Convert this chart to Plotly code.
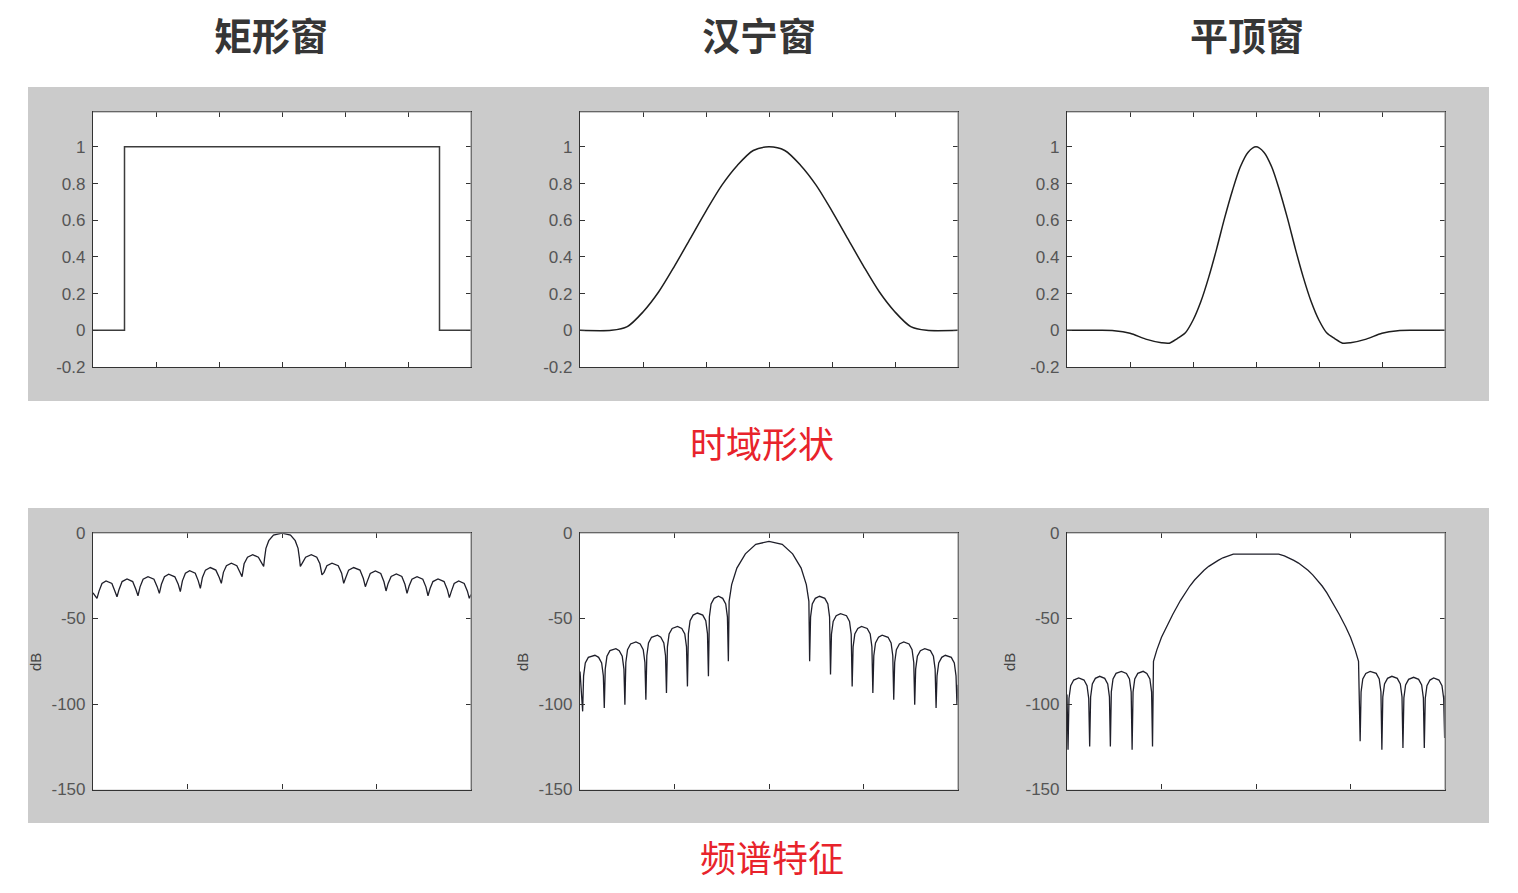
import plotly.graph_objects as go

# ---------------- data ----------------
col_titles = ["矩形窗", "汉宁窗", "平顶窗"]
row_labels = ["时域形状", "频谱特征"]
axis_label = "dB"

time_yticks = [-0.2, 0, 0.2, 0.4, 0.6, 0.8, 1]
time_yticktext = ["-0.2", "0", "0.2", "0.4", "0.6", "0.8", "1"]
time_xticks = [1, 2, 3, 4, 5]
spec_yticks = [-150, -100, -50, 0]
spec_yticktext = ["-150", "-100", "-50", "0"]
spec_xticks = [-1, 0, 1]

# time-domain shapes
rect_t_x = [0, 0.5, 0.5, 5.5, 5.5, 6]
rect_t_y = [0, 0, 1, 1, 0, 0]

hann_t_x = [0, 0.5, 0.75, 1.0, 1.25, 1.5, 1.75, 2.0, 2.25, 2.5, 2.75, 3.0,
            3.25, 3.5, 3.75, 4.0, 4.25, 4.5, 4.75, 5.0, 5.25, 5.5, 6]
hann_t_y = [0, 0, 0.02, 0.10, 0.21, 0.35, 0.50, 0.65, 0.79, 0.90, 0.98, 1.0,
            0.98, 0.90, 0.79, 0.65, 0.50, 0.35, 0.21, 0.10, 0.02, 0, 0]

flat_t_x = [0, 0.5, 0.75, 1.0, 1.25, 1.5, 1.625, 1.75, 1.875, 2.0, 2.125, 2.25,
            2.375, 2.5, 2.625, 2.75, 2.875, 3.0, 3.125, 3.25, 3.375, 3.5, 3.625,
            3.75, 3.875, 4.0, 4.125, 4.25, 4.375, 4.5, 4.75, 5.0, 5.25, 5.5, 6]
flat_t_y = [0, 0, -0.002, -0.016, -0.048, -0.068, -0.07, -0.045, -0.015, 0.055, 0.157, 0.29,
            0.444, 0.61, 0.761, 0.89, 0.971, 1.0, 0.971, 0.89, 0.761, 0.61, 0.444,
            0.29, 0.157, 0.055, -0.015, -0.045, -0.07, -0.068, -0.048, -0.016, -0.002, 0, 0]

# spectra (dB)
rect_s_x = [-2.000, -1.958, -1.936, -1.905, -1.862, -1.800, -1.768, -1.746, -1.724, -1.692, -1.640,
            -1.580, -1.546, -1.524, -1.502, -1.470, -1.418, -1.355, -1.320, -1.298, -1.276, -1.244,
            -1.199, -1.134, -1.098, -1.076, -1.054, -1.022, -0.977, -0.918, -0.886, -0.864, -0.842,
            -0.810, -0.758, -0.700, -0.664, -0.642, -0.620, -0.588, -0.536, -0.478, -0.445, -0.423,
            -0.401, -0.365, -0.310, -0.250, -0.216, -0.194, -0.185, -0.170, -0.140, -0.090, 0.000,
            0.090, 0.140, 0.170, 0.185, 0.194, 0.216, 0.250, 0.310, 0.368, 0.401, 0.423, 0.445,
            0.475, 0.529, 0.595, 0.631, 0.653, 0.675, 0.705, 0.758, 0.825, 0.860, 0.882, 0.904,
            0.934, 0.988, 1.045, 1.079, 1.101, 1.123, 1.155, 1.210, 1.268, 1.301, 1.323, 1.345,
            1.375, 1.429, 1.490, 1.523, 1.545, 1.567, 1.597, 1.651, 1.715, 1.749, 1.771, 1.793,
            1.822, 1.870, 1.928, 1.962, 1.982, 2.000]
rect_s_y = [-35.0, -38.2, -34.0, -29.5, -28.0, -29.5, -34.0, -37.3, -33.0, -28.4, -26.9,
            -28.4, -33.0, -36.7, -31.5, -27.0, -25.5, -27.0, -31.5, -35.3, -30.0, -25.6,
            -24.1, -25.6, -30.0, -34.3, -28.0, -23.5, -22.0, -23.5, -28.0, -32.4, -26.0,
            -21.7, -20.2, -21.7, -26.0, -29.4, -23.0, -19.1, -17.6, -19.1, -23.0, -25.5,
            -18.0, -14.2, -12.7, -14.2, -17.5, -19.6, -15.0, -9.0, -4.5, -1.2, 0.0,
            -1.2, -4.5, -9.0, -15.0, -19.6, -17.5, -14.2, -12.7, -14.2, -18.0, -24.5, -23.0,
            -19.1, -17.6, -19.1, -23.5, -29.4, -26.0, -21.7, -20.2, -21.7, -26.5, -31.4, -28.0,
            -23.7, -22.2, -23.7, -28.5, -33.9, -29.5, -25.4, -23.9, -25.4, -30.0, -35.3, -31.0,
            -27.0, -25.5, -27.0, -31.5, -36.7, -32.5, -28.4, -26.9, -28.4, -33.0, -37.8, -34.0,
            -29.5, -28.0, -29.5, -34.0, -38.2, -36.0]

hann_s_x = [-2.000, -1.990, -1.972,
            -1.962, -1.944, -1.912, -1.842, -1.803, -1.771, -1.753, -1.743,
            -1.733, -1.715, -1.683, -1.620, -1.585, -1.553, -1.535, -1.525,
            -1.515, -1.497, -1.465, -1.408, -1.363, -1.331, -1.313, -1.303,
            -1.293, -1.275, -1.243, -1.180, -1.145, -1.113, -1.095, -1.085,
            -1.075, -1.057, -1.025, -0.968, -0.923, -0.891, -0.873, -0.863,
            -0.853, -0.835, -0.803, -0.757, -0.701, -0.669, -0.651, -0.641,
            -0.631, -0.613, -0.581, -0.535, -0.490, -0.458, -0.440, -0.430,
            -0.422, -0.395, -0.340, -0.250, -0.140, 0.000, 0.140, 0.250, 0.340, 0.395, 0.422, 0.430,
            0.440, 0.458, 0.490, 0.535, 0.591, 0.623, 0.641, 0.651,
            0.661, 0.679, 0.711, 0.757, 0.820, 0.852, 0.870, 0.880,
            0.890, 0.908, 0.940, 0.979, 1.039, 1.071, 1.089, 1.099,
            1.109, 1.127, 1.159, 1.197, 1.260, 1.292, 1.310, 1.320,
            1.330, 1.348, 1.380, 1.426, 1.482, 1.514, 1.532, 1.542,
            1.552, 1.570, 1.602, 1.648, 1.708, 1.740, 1.758, 1.768,
            1.778, 1.796, 1.828, 1.866, 1.929, 1.961, 1.979, 1.989,
            2.000]
hann_s_y = [-81.0, -92.0, -104.3,
            -83.5, -76.0, -72.7, -71.5, -72.7, -76.0, -83.5, -102.3,
            -79.6, -72.1, -68.8, -67.6, -68.8, -72.1, -79.6, -100.4,
            -75.7, -68.2, -64.9, -63.7, -64.9, -68.2, -75.7, -97.5,
            -71.8, -64.3, -61.0, -59.8, -61.0, -64.3, -71.8, -93.6,
            -66.6, -59.1, -55.8, -54.6, -55.8, -59.1, -66.6, -89.7,
            -58.8, -51.3, -48.0, -46.8, -48.0, -51.3, -58.8, -83.8,
            -49.0, -41.5, -38.2, -37.0, -38.2, -41.5, -49.0, -75.0,
            -40.0, -30.2, -20.5, -12.2, -6.6, -4.9, -6.6, -12.2, -20.5, -30.2, -40.0, -75.0,
            -49.0, -41.5, -38.2, -37.0, -38.2, -41.5, -49.0, -82.8,
            -59.2, -51.7, -48.4, -47.2, -48.4, -51.7, -59.2, -89.7,
            -66.6, -59.1, -55.8, -54.6, -55.8, -59.1, -66.6, -93.6,
            -71.8, -64.3, -61.0, -59.8, -61.0, -64.3, -71.8, -97.5,
            -75.7, -68.2, -64.9, -63.7, -64.9, -68.2, -75.7, -100.4,
            -79.6, -72.1, -68.8, -67.6, -68.8, -72.1, -79.6, -102.3,
            -83.5, -76.0, -72.7, -71.5, -72.7, -76.0, -83.5, -100.4,
            -88.7]

flat_s_x = [-2.000, -1.989,
            -1.979, -1.961, -1.929, -1.876, -1.820, -1.788, -1.770, -1.760,
            -1.750, -1.732, -1.700, -1.654, -1.601, -1.569, -1.551, -1.541,
            -1.531, -1.513, -1.481, -1.424, -1.371, -1.339, -1.321, -1.311,
            -1.301, -1.283, -1.251, -1.194, -1.155, -1.123, -1.105, -1.095,
            -1.085, -1.050, -1.000, -0.950, -0.880, -0.800, -0.750, -0.700, -0.650, -0.600,
            -0.550, -0.500, -0.450, -0.400, -0.350, -0.300, -0.240, 0.000,
            0.240, 0.300, 0.350, 0.400, 0.450, 0.500, 0.550, 0.600, 0.650, 0.700, 0.750,
            0.800, 0.880, 0.950, 1.000, 1.050, 1.085,
            1.102,
            1.112, 1.130, 1.162, 1.208, 1.272, 1.304, 1.322, 1.332,
            1.342, 1.360, 1.392, 1.438, 1.495, 1.527, 1.545, 1.555,
            1.565, 1.583, 1.615, 1.668, 1.721, 1.753, 1.771, 1.781,
            1.791, 1.809, 1.841, 1.880, 1.936, 1.968, 1.986, 1.996,
            2.000]
flat_s_y = [-94.5, -126.7,
            -96.8, -89.3, -86.0, -84.8, -86.0, -89.3, -96.8, -124.8,
            -95.8, -88.3, -85.0, -83.8, -85.0, -88.3, -95.8, -124.8,
            -92.9, -85.4, -82.1, -80.9, -82.1, -85.4, -92.9, -126.7,
            -92.9, -85.4, -82.1, -80.9, -82.1, -85.4, -92.9, -124.8,
            -75.0, -68.5, -61.0, -55.0, -47.5, -39.5, -35.0, -31.0, -27.5, -24.5,
            -21.8, -19.5, -17.6, -16.0, -14.5, -13.4, -12.3, -12.3,
            -12.3, -13.4, -14.5, -16.0, -17.6, -19.5, -21.8, -24.5, -27.5, -31.0, -35.0,
            -39.5, -47.5, -55.0, -61.0, -68.5, -75.0,
            -121.8,
            -92.9, -85.4, -82.1, -80.9, -82.1, -85.4, -92.9, -126.7,
            -95.8, -88.3, -85.0, -83.8, -85.0, -88.3, -95.8, -125.7,
            -96.4, -88.9, -85.6, -84.4, -85.6, -88.9, -96.4, -125.7,
            -96.8, -89.3, -86.0, -84.8, -86.0, -89.3, -96.8, -119.9,
            -95.0]

# ---------------- layout helpers ----------------
W, H = 1518, 893


def fx(p):
    return p / W


def fy(p):
    return 1 - p / H


col_px = [(93, 471), (580, 958), (1067, 1445)]
top_px = (112, 367)
bot_px = (533, 789.5)

fig = go.Figure()

time_series = [(rect_t_x, rect_t_y, "linear", "#3c3c3c"),
               (hann_t_x, hann_t_y, "spline", "#1e1e1e"),
               (flat_t_x, flat_t_y, "spline", "#1e1e1e")]
spec_series = [(rect_s_x, rect_s_y), (hann_s_x, hann_s_y), (flat_s_x, flat_s_y)]

tick_font = dict(family="Liberation Sans, Arial, sans-serif", size=17, color="#555555")
layout = dict(width=W, height=H, autosize=False, template="none",
              margin=dict(l=0, r=0, t=0, b=0, pad=0, autoexpand=False),
              paper_bgcolor="white", plot_bgcolor="white", showlegend=False)

shapes = []
annotations = []

# gray panels
for (y0, y1) in [(87, 401), (508, 823)]:
    shapes.append(dict(type="rect", xref="paper", yref="paper", layer="below",
                       x0=fx(28), x1=fx(1489), y0=fy(y1), y1=fy(y0),
                       fillcolor="#cbcbcb", line=dict(width=0)))

for r in range(2):
    for c in range(3):
        k = r * 3 + c + 1
        xa = "xaxis" if k == 1 else f"xaxis{k}"
        ya = "yaxis" if k == 1 else f"yaxis{k}"
        xs = "x" if k == 1 else f"x{k}"
        ys = "y" if k == 1 else f"y{k}"
        ypx = top_px if r == 0 else bot_px
        # white plotting area
        shapes.append(dict(type="rect", xref="paper", yref="paper", layer="below",
                           x0=fx(col_px[c][0]), x1=fx(col_px[c][1]),
                           y0=fy(ypx[1]), y1=fy(ypx[0]),
                           fillcolor="white", line=dict(width=0)))
        common = dict(showline=True, linecolor="#333333", linewidth=1.2, mirror="ticks",
                      ticks="inside", ticklen=5, tickcolor="#333333", tickwidth=1,
                      showgrid=False, zeroline=False, fixedrange=True, automargin=False)
        if r == 0:
            xr, xt = [0, 6], time_xticks
            yr, yt, ytt = [-0.2, 1.19], time_yticks, time_yticktext
            sx, sy, shp, col = time_series[c]
            fig.add_trace(go.Scatter(x=sx, y=sy, mode="lines", xaxis=xs, yaxis=ys,
                                     line=dict(color=col, width=1.5, shape=shp, smoothing=0.8),
                                     hoverinfo="skip"))
        else:
            xr, xt = [-2, 2], spec_xticks
            yr, yt, ytt = [-150, 0], spec_yticks, spec_yticktext
            sx, sy = spec_series[c]
            fig.add_trace(go.Scatter(x=sx, y=sy, mode="lines", xaxis=xs, yaxis=ys,
                                     line=dict(color="#1f1f2a", width=1.3),
                                     hoverinfo="skip"))
        layout[xa] = dict(domain=[fx(col_px[c][0]), fx(col_px[c][1])], range=xr,
                          tickvals=xt, showticklabels=False, anchor=ys, **common)
        layout[ya] = dict(domain=[fy(ypx[1]), fy(ypx[0])], range=yr,
                          tickvals=yt, ticktext=ytt, tickfont=tick_font,
                          ticklabelstandoff=3, anchor=xs, **common)
        # lighter top / right frame lines
        shapes.append(dict(type="line", xref=f"{xs} domain", yref=f"{ys} domain", layer="above",
                           x0=0, x1=1, y0=1, y1=1, line=dict(color="#9a9a9a", width=1.2)))
        shapes.append(dict(type="line", xref=f"{xs} domain", yref=f"{ys} domain", layer="above",
                           x0=1, x1=1, y0=0, y1=1, line=dict(color="#9a9a9a", width=1.2)))
        if r == 1:
            annotations.append(dict(text=axis_label, xref="paper", yref="paper",
                                    x=fx(col_px[c][0] - 58), y=fy(662), showarrow=False,
                                    textangle=-90, xanchor="center", yanchor="middle",
                                    font=dict(family="Liberation Sans, Arial, sans-serif",
                                              size=15, color="#444444")))

# column titles
title_cx = [271, 758.5, 1246.5]
for c in range(3):
    annotations.append(dict(text=f"<b>{col_titles[c]}</b>", xref="paper", yref="paper",
                            x=fx(title_cx[c]), y=fy(33), showarrow=False,
                            xanchor="center", yanchor="middle",
                            font=dict(family="Noto Sans CJK SC", size=38, color="#363636")))

# red row labels
for (txt, cx, cy) in [(row_labels[0], 762, 442), (row_labels[1], 771.5, 856)]:
    annotations.append(dict(text=txt, xref="paper", yref="paper",
                            x=fx(cx), y=fy(cy), showarrow=False,
                            xanchor="center", yanchor="middle",
                            font=dict(family="Noto Sans CJK SC", size=36, color="#e8232b")))

layout["shapes"] = shapes
layout["annotations"] = annotations
fig.update_layout(**layout)

fig.write_html("out.html", config={"displayModeBar": False})
